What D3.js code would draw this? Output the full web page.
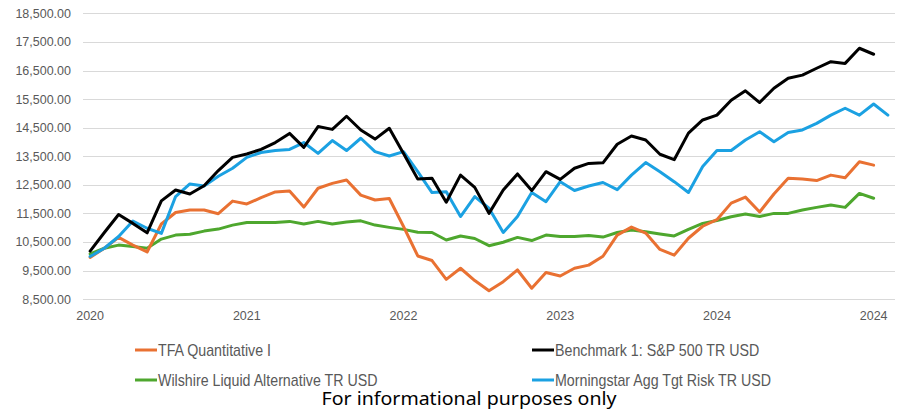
<!DOCTYPE html>
<html lang="en">
<head>
<meta charset="UTF-8">
<title>Growth of 10,000</title>
<script src="https://d3js.org/d3.v7.min.js"></script>
<style>
body { margin: 0; background: #fff; }
svg { display: block; }
.grid line { stroke: #d9d9d9; stroke-width: 1; shape-rendering: crispEdges; }
.axis text { font-family: "Liberation Sans", Arial, sans-serif; font-size: 12.5px; fill: #595959; }
.axis path, .axis line { display: none; }
.legend text { font-family: "Liberation Sans Narrow", "Arial Narrow", "Liberation Sans", sans-serif; font-size: 16px; fill: #595959; }
.note { font-family: "Noto Sans", sans-serif; font-size: 18px; fill: #000; }
.series { fill: none; stroke-width: 3; stroke-linejoin: round; stroke-linecap: round; }
</style>
</head>
<body>
<script>
// months on the category axis
var months = [
  "2020-05","2020-06","2020-07","2020-08","2020-09","2020-10","2020-11","2020-12",
  "2021-01","2021-02","2021-03","2021-04","2021-05","2021-06","2021-07","2021-08","2021-09","2021-10","2021-11","2021-12",
  "2022-01","2022-02","2022-03","2022-04","2022-05","2022-06","2022-07","2022-08","2022-09","2022-10","2022-11","2022-12",
  "2023-01","2023-02","2023-03","2023-04","2023-05","2023-06","2023-07","2023-08","2023-09","2023-10","2023-11","2023-12",
  "2024-01","2024-02","2024-03","2024-04","2024-05","2024-06","2024-07","2024-08","2024-09","2024-10","2024-11","2024-12",
  "2025-01"
];

var tfa = [9960,10280,10660,10390,10150,11130,11530,11620,11620,11490,11930,11830,12050,12250,12280,11720,12380,12550,12670,12140,
  11970,12020,11040,10010,9850,9190,9580,9150,8790,9110,9520,8880,9430,9310,9580,9690,10000,10740,11020,10810,
  10240,10040,10630,11050,11280,11860,12070,11550,12180,12730,12700,12650,12840,12750,13310,13190];

var sp500 = [10180,10830,11460,11150,10820,11940,12320,12180,12470,13000,13460,13580,13740,13980,14300,13810,14540,14440,14900,14420,
  14100,14480,13600,12700,12730,11890,12840,12410,11500,12320,12880,12300,12960,12690,13080,13250,13270,13920,14210,14070,
  13570,13380,14310,14770,14940,15460,15790,15380,15880,16230,16340,16580,16810,16750,17280,17070];

var wilshire = [10080,10280,10390,10340,10280,10600,10740,10770,10880,10950,11090,11180,11180,11180,11220,11130,11220,11130,11200,11240,
  11090,11010,10940,10840,10830,10570,10710,10620,10370,10490,10660,10550,10740,10690,10690,10730,10670,10830,10920,10860,
  10780,10710,10940,11150,11250,11380,11480,11390,11500,11500,11620,11710,11790,11710,12200,12030];

var morningstar = [9990,10280,10690,11230,10980,10800,12090,12530,12460,12800,13080,13460,13630,13700,13740,13980,13600,14050,13700,14130,
  13660,13510,13660,12960,12230,12260,11390,12090,11680,10830,11390,12230,11910,12610,12300,12460,12580,12330,12840,13280,
  12960,12610,12230,13140,13700,13700,14070,14360,14010,14330,14420,14650,14940,15180,14940,15330,14940];

var seriesNames = ["TFA Quantitative I", "Benchmark 1: S&P 500 TR USD", "Wilshire Liquid Alternative TR USD", "Morningstar Agg Tgt Risk TR USD"];
var seriesColors = ["#e97132", "#000000", "#4ea72e", "#1ba1e2"];
var yTicks = [8500, 9500, 10500, 11500, 12500, 13500, 14500, 15500, 16500, 17500, 18500];
var xTickLabels = ["2020", "2021", "2022", "2023", "2024", "2024"];

var width = 900, height = 411;
var plot = {left: 83, right: 895, top: 13.4, bottom: 299.1};

var svg = d3.select('body').append('svg')
  .attr('width', width)
  .attr('height', height);

var x = d3.scaleBand().domain(months).range([plot.left, plot.right]);
var y = d3.scaleLinear().domain([8500, 18500]).range([plot.bottom, plot.top]);
var cx = function(i){ return x(months[i]) + x.bandwidth() / 2; };

// gridlines
svg.append('g').attr('class', 'grid')
  .selectAll('line').data(yTicks).enter().append('line')
  .attr('x1', plot.left).attr('x2', plot.right)
  .attr('y1', function(d){ return Math.round(y(d)) + 0.5; })
  .attr('y2', function(d){ return Math.round(y(d)) + 0.5; });

// y axis
svg.append('g').attr('class', 'axis')
  .attr('transform', 'translate(' + (plot.left + 1) + ',0)')
  .call(d3.axisLeft(y).tickValues(yTicks).tickFormat(d3.format(',.2f')).tickSize(0).tickPadding(13));

// x axis, a label every 11 months
var tickIdx = xTickLabels.map(function(d, i){ return i * 11; });
svg.append('g').attr('class', 'axis')
  .attr('transform', 'translate(0,' + (plot.bottom + 4) + ')')
  .call(d3.axisBottom(x)
    .tickValues(tickIdx.map(function(i){ return months[i]; }))
    .tickFormat(function(d, i){ return xTickLabels[i]; })
    .tickSize(0).tickPadding(8));

// lines
var allSeries = [tfa, sp500, wilshire, morningstar];
var line = d3.line()
  .x(function(d, i){ return cx(i); })
  .y(function(d){ return y(d); });

// draw order: green, orange, blue, black on top
[2, 0, 3, 1].forEach(function(k){
  svg.append('path')
    .attr('class', 'series')
    .attr('stroke', seriesColors[k])
    .attr('d', line(allSeries[k]));
});

// legend (narrow face is missing, so squeeze the regular one)
var legendPos = [[135, 350], [532, 350], [135, 380], [532, 380]];
var legend = svg.append('g').attr('class', 'legend');
seriesNames.forEach(function(name, k){
  var g = legend.append('g').attr('transform', 'translate(' + legendPos[k][0] + ',' + legendPos[k][1] + ')');
  g.append('line').attr('x1', 0).attr('x2', 22).attr('y1', 0).attr('y2', 0)
    .attr('stroke', seriesColors[k]).attr('stroke-width', 3);
  g.append('text').attr('transform', 'translate(23,5.5) scale(0.89,1)').text(name);
});

svg.append('text').attr('class', 'note')
  .attr('x', 469).attr('y', 405)
  .attr('text-anchor', 'middle')
  .attr('textLength', 295).attr('lengthAdjust', 'spacingAndGlyphs')
  .text('For informational purposes only');
</script>
</body>
</html>
